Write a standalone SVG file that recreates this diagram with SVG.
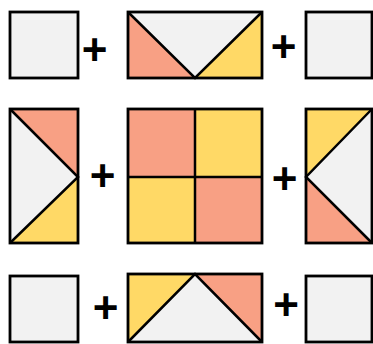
<svg xmlns="http://www.w3.org/2000/svg" width="373" height="344" viewBox="0 0 373 344">
<style>
.g{fill:#f2f2f2}.s{fill:#f8a084}.y{fill:#ffd966}
.o{fill:none;stroke:#000;stroke-width:2.8;stroke-linejoin:miter}
.l{stroke:#000;stroke-width:2.5;fill:none}
.p{font-family:"Liberation Sans",Arial,sans-serif;font-weight:bold;font-size:44px;text-anchor:middle;fill:#000}
</style>
<rect width="373" height="344" fill="#fff"/>
<g id="r1a"><rect x="10" y="12" width="68" height="66" class="g"/><rect x="10" y="12" width="68" height="66" class="o"/></g>
<g id="r1b"><rect x="128" y="12" width="134" height="66" class="g"/><polygon points="128,12 195,78 128,78" class="s"/><polygon points="262,12 262,78 195,78" class="y"/><polyline points="128,12 195,78 262,12" class="l"/><rect x="128" y="12" width="134" height="66" class="o"/></g>
<g id="r1c"><rect x="306" y="12" width="66" height="66" class="g"/><rect x="306" y="12" width="66" height="66" class="o"/></g>
<g id="r2a"><rect x="10" y="109" width="68" height="134" class="g"/><polygon points="10,109 78,109 78,177" class="s"/><polygon points="78,177 78,243 10,243" class="y"/><polyline points="10,109 78,177 10,243" class="l"/><rect x="10" y="109" width="68" height="134" class="o"/></g>
<g id="r2b"><rect x="128" y="109" width="67" height="68" class="s"/><rect x="195" y="109" width="67" height="68" class="y"/><rect x="128" y="177" width="67" height="66" class="y"/><rect x="195" y="177" width="67" height="66" class="s"/><line x1="195" y1="109" x2="195" y2="243" class="l"/><line x1="128" y1="177" x2="262" y2="177" class="l"/><rect x="128" y="109" width="134" height="134" class="o"/></g>
<g id="r2c"><rect x="306" y="109" width="66" height="134" class="g"/><polygon points="306,109 372,109 306,177" class="y"/><polygon points="306,177 372,243 306,243" class="s"/><polyline points="372,109 306,177 372,243" class="l"/><rect x="306" y="109" width="66" height="134" class="o"/></g>
<g id="r3a"><rect x="10" y="276" width="68" height="66" class="g"/><rect x="10" y="276" width="68" height="66" class="o"/></g>
<g id="r3b"><rect x="128" y="274" width="134" height="68" class="g"/><polygon points="128,274 195,274 128,342" class="y"/><polygon points="195,274 262,274 262,342" class="s"/><polyline points="128,342 195,274 262,342" class="l"/><rect x="128" y="274" width="134" height="68" class="o"/></g>
<g id="r3c"><rect x="306" y="276" width="66" height="66" class="g"/><rect x="306" y="276" width="66" height="66" class="o"/></g>
<g id="plus">
<text x="94.5" y="65" class="p">+</text>
<text x="283.5" y="62" class="p">+</text>
<text x="102.5" y="190.5" class="p">+</text>
<text x="284.5" y="194" class="p">+</text>
<text x="105.5" y="322.5" class="p">+</text>
<text x="286" y="320" class="p">+</text>
</g>
</svg>
